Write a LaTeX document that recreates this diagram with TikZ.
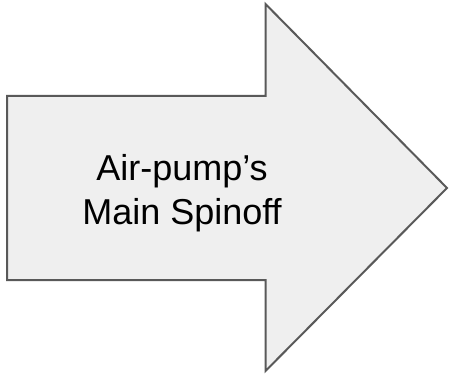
\documentclass[tikz,border=0pt]{standalone}
\usepackage{fontspec}
\setmainfont{Liberation Sans}
\definecolor{arrowfill}{HTML}{EFEFEF}
\definecolor{arrowline}{HTML}{595959}

\begin{document}
\begin{tikzpicture}[x=1pt,y=-1pt]
		\tikzset{
			bigarrow/.style = { draw=arrowline, fill=arrowfill, line width=2pt, line join=miter },
			label/.style = { align=center, inner sep=0pt, font=\fontsize{36}{44}\selectfont },
		}
		\useasboundingbox (0,0) rectangle (449,374);
		% arrow outline
		\draw[bigarrow] (7,96) -- (265.5,96) -- (265.5,4) -- (447,188)
			-- (265.5,371) -- (265.5,280) -- (7,280) -- cycle;
		\node[label] (spinoff) at (182,193) { Air-pump’s \\ Main Spinoff };
		\end{tikzpicture}
\end{document}
